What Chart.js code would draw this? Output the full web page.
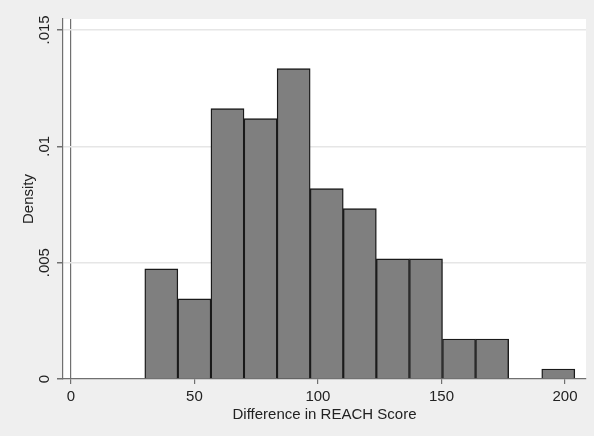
<!doctype html>
<html>
<head>
    <title>Histogram</title>
    <script src="https://cdn.jsdelivr.net/npm/chart.js@4"></script>
    <style>
        html, body { margin: 0; padding: 0; background: #efefef; }
        .chart-con { width: 594px; height: 436px; position: relative; }
    </style>
</head>
<body>
<div class="chart-con">
    <canvas id="chart-area"></canvas>
</div>
<script>
    // bin midpoints (Difference in REACH Score) and densities
    var binCenters = [36.60, 49.99, 63.38, 76.77, 90.16, 103.55, 116.94, 130.33, 143.72, 157.11, 170.50, 183.89, 197.28];
    var densities = [0.00473, 0.00344, 0.01162, 0.01119, 0.01334, 0.00818, 0.00732, 0.00516, 0.00516, 0.00172, 0.00172, 0, 0.00043];
    var xTicks = [0, 50, 100, 150, 200];
    var yTicks = [0, 0.005, 0.01, 0.015];

    var fmtY = function(v) {
        if (v === 0) return '0';
        return String(Number(v.toFixed(3))).replace(/^0\./, '.');
    };

    var fontFamily = '"Liberation Sans", Arial, Helvetica, sans-serif';
    var textColor = '#222';

    var bgPlugin = {
        id: 'stataBg',
        beforeDraw: function(chart) {
            var c = chart.ctx, a = chart.chartArea;
            c.save();
            c.fillStyle = '#efefef';
            c.fillRect(0, 0, chart.width, chart.height);
            c.fillStyle = '#ffffff';
            c.fillRect(a.left, a.top, a.right - a.left, a.bottom - a.top);
            c.restore();
        },
        afterDraw: function(chart) {
            // rotated y tick labels, Stata style
            var c = chart.ctx, y = chart.scales.y;
            c.save();
            c.fillStyle = textColor;
            c.font = '15px ' + fontFamily;
            c.textAlign = 'center';
            c.textBaseline = 'middle';
            yTicks.forEach(function(v) {
                var py = y.getPixelForValue(v);
                c.save();
                c.translate(y.right - 18, py);
                c.rotate(-Math.PI / 2);
                c.fillText(fmtY(v), 0, 0);
                c.restore();
            });
            c.restore();
        }
    };

    var config = {
        type: 'bar',
        data: {
            datasets: [{
                label: 'Density',
                data: binCenters.map(function(x, i) { return { x: x, y: densities[i] }; }),
                backgroundColor: '#7f7f7f',
                borderColor: '#1a1a1a',
                borderWidth: 1.4,
                borderSkipped: 'bottom',
                barPercentage: 1,
                categoryPercentage: 1
            }]
        },
        options: {
            responsive: true,
            maintainAspectRatio: false,
            animation: false,
            layout: { padding: { top: 19, right: 8, left: 0, bottom: 11 } },
            plugins: { legend: { display: false }, tooltip: { enabled: false } },
            scales: {
                x: {
                    type: 'linear',
                    min: -3.2,
                    max: 208.5,
                    offset: false,
                    afterBuildTicks: function(scale) {
                        scale.ticks = xTicks.map(function(v) { return { value: v }; });
                    },
                    ticks: {
                        includeBounds: false,
                        color: textColor,
                        font: { size: 15, family: fontFamily },
                        padding: 4,
                        maxRotation: 0
                    },
                    grid: {
                        offset: false,
                        drawOnChartArea: true,
                        color: function(ctx) { return ctx.tick && ctx.tick.value === 0 ? '#707070' : 'rgba(0,0,0,0)'; },
                        tickColor: '#707070',
                        tickLength: 5,
                        lineWidth: 1.2
                    },
                    border: { display: true, color: '#707070', width: 1.2 },
                    title: {
                        display: true,
                        text: 'Difference in REACH Score',
                        color: textColor,
                        font: { size: 15, family: fontFamily },
                        padding: { top: -4, bottom: 1 }
                    }
                },
                y: {
                    min: 0,
                    max: 0.01547,
                    afterBuildTicks: function(scale) {
                        scale.ticks = yTicks.map(function(v) { return { value: v }; });
                    },
                    afterFit: function(scale) { scale.width = 63; },
                    ticks: { display: false },
                    grid: {
                        color: function(ctx) { return ctx.tick && ctx.tick.value === 0 ? 'rgba(0,0,0,0)' : '#e6e6e6'; },
                        tickColor: '#707070',
                        tickLength: 6,
                        lineWidth: 1.5
                    },
                    border: { display: true, color: '#707070', width: 1.2 },
                    title: {
                        display: true,
                        text: 'Density',
                        color: textColor,
                        font: { size: 15, family: fontFamily },
                        padding: { top: 20, bottom: 0 }
                    }
                }
            }
        },
        plugins: [bgPlugin]
    };

    window.onload = function() {
        var ctx = document.getElementById('chart-area').getContext('2d');
        window.myHist = new Chart(ctx, config);
    };
</script>
</body>
</html>
